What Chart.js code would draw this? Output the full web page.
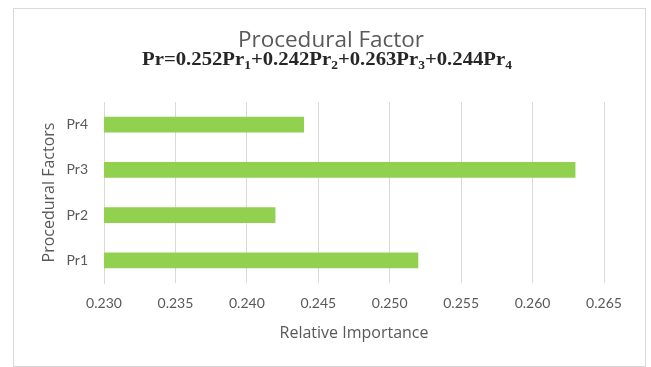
<!DOCTYPE html>
<html>
<head>
<meta charset="utf-8">
<script src="https://cdn.jsdelivr.net/npm/chart.js@4/dist/chart.umd.min.js"></script>
<style>
  html, body { margin: 0; padding: 0; background: #ffffff; }
  #wrap { width: 651px; height: 367px; position: relative; }
</style>
</head>
<body>
<div id="wrap"><canvas id="chart" width="651" height="367"></canvas></div>
<script>
// Procedural factors and their relative importance weights
const categories = ['Pr1', 'Pr2', 'Pr3', 'Pr4'];
const importance = [0.252, 0.242, 0.263, 0.244];
const axisMin = 0.230;
const axisMax = 0.265;
const axisStep = 0.005;

const chartTitle = 'Procedural Factor';
const xTitle = 'Relative Importance';
const yTitle = 'Procedural Factors';

const textGray = '#595959';
const gridGray = '#d9d9d9';
const barGreen = '#92d050';
const tickFont = 'Lato, "Open Sans", sans-serif';
const titleFont = '"Open Sans", Lato, sans-serif';

// Frame, heading and weighted-sum equation (with subscripted indices)
const headingPlugin = {
  id: 'heading',
  beforeDraw(chart) {
    const ctx = chart.ctx;
    ctx.save();
    ctx.fillStyle = '#ffffff';
    ctx.fillRect(0, 0, chart.width, chart.height);
    ctx.strokeStyle = gridGray;
    ctx.lineWidth = 1;
    ctx.strokeRect(13.5, 8.5, 632, 358);
    ctx.restore();
  },
  afterDraw(chart) {
    const ctx = chart.ctx;
    ctx.save();
    ctx.fillStyle = textGray;
    ctx.font = '22.5px ' + titleFont;
    ctx.textAlign = 'center';
    ctx.textBaseline = 'alphabetic';
    ctx.fillText(chartTitle, 331, 47);

    // Pr = w1 Pr1 + w2 Pr2 + ...
    const parts = [{ t: 'Pr=', sub: false }];
    categories.forEach((c, i) => {
      if (i > 0) parts.push({ t: '+', sub: false });
      parts.push({ t: importance[i].toFixed(3) + 'Pr', sub: false });
      parts.push({ t: c.replace('Pr', ''), sub: true });
    });
    const mainFont = 'bold 18.5px "Liberation Serif", "Times New Roman", serif';
    const subFont = 'bold 12px "Liberation Serif", "Times New Roman", serif';
    const stretch = 1.12;
    let total = 0;
    parts.forEach(p => {
      ctx.font = p.sub ? subFont : mainFont;
      p.w = ctx.measureText(p.t).width;
      total += p.w;
    });
    const base = 65;
    ctx.translate(327 - total * stretch / 2, 0);
    ctx.scale(stretch, 1);
    let x = 0;
    ctx.fillStyle = '#262626';
    ctx.textAlign = 'left';
    parts.forEach(p => {
      ctx.font = p.sub ? subFont : mainFont;
      ctx.fillText(p.t, x, p.sub ? base + 4 : base);
      x += p.w;
    });
    ctx.restore();
  }
};

new Chart(document.getElementById('chart'), {
  type: 'bar',
  data: {
    labels: categories,
    datasets: [{
      data: importance,
      backgroundColor: barGreen,
      borderWidth: 0,
      categoryPercentage: 1,
      barPercentage: 0.345
    }]
  },
  plugins: [headingPlugin],
  options: {
    indexAxis: 'y',
    responsive: false,
    animation: false,
    layout: { padding: { top: 102, right: 47, bottom: 0, left: 0 } },
    plugins: {
      legend: { display: false },
      title: { display: false },
      tooltip: { enabled: false }
    },
    scales: {
      x: {
        type: 'linear',
        min: axisMin,
        max: axisMax,
        afterFit(scale) { scale.height = 84; },
        ticks: {
          stepSize: axisStep,
          color: textGray,
          font: { family: tickFont, size: 14 },
          padding: 12,
          callback: v => Number(v).toFixed(3)
        },
        grid: { color: gridGray, lineWidth: 1, drawTicks: false },
        border: { display: false },
        title: {
          display: true,
          text: xTitle,
          color: textGray,
          font: { family: titleFont, size: 16 },
          padding: { top: 0, bottom: 24 }
        }
      },
      y: {
        reverse: true,
        afterFit(scale) { scale.width = 104; },
        ticks: {
          color: textGray,
          font: { family: tickFont, size: 14 },
          padding: 16
        },
        grid: { display: false, drawTicks: false },
        border: { display: true, color: gridGray, width: 1 },
        title: {
          display: true,
          text: yTitle,
          color: textGray,
          font: { family: titleFont, size: 16 },
          padding: { top: 40, bottom: 0 }
        }
      }
    }
  }
});
</script>
</body>
</html>
